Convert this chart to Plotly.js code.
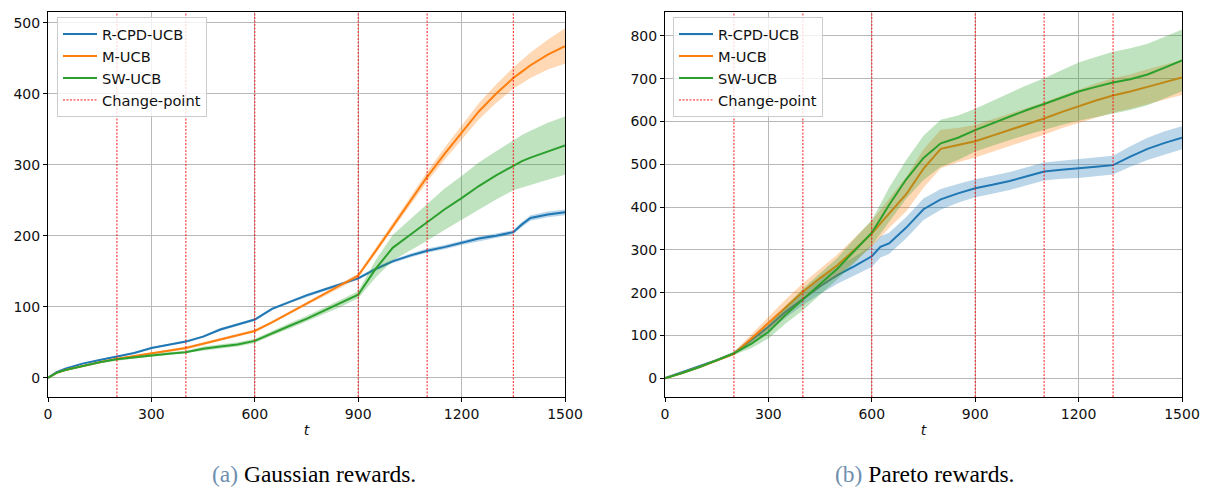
<!DOCTYPE html>
<html>
<head>
<meta charset="utf-8">
<script src="https://cdn.plot.ly/plotly-3.0.1.min.js"></script>
<style>html,body{margin:0;padding:0;background:#fff;}#chart{width:1212px;height:489px;}</style>
</head>
<body>
<div id="chart"></div>
<script>
// ---------- (a) Gaussian rewards ----------
const tA = [0,25,50,100,150,200,250,300,350,400,450,500,550,600,650,700,750,800,850,900,950,1000,1050,1100,1150,1200,1250,1300,1350,1375,1400,1450,1500];
const blueA = [0,8,13,20,25,30,35,42,47,51,58,68,75,82,97,107,116,124,132,140,153,164,172,179,184,190,196,200,205,216,225,230,233];
const blueBandA = [0,1,1,1,1,1,1,1.5,1.5,1.5,1.5,2,2,2,2,2,2,2,2,2,2.5,2.5,2.5,3,3,3,3,3,3,3.5,4,4,4];
const orangeA = [0,7,11,17,22,27,31,35,38,42,48,54,60,66,78,91,104,117,130,144,178,213,248,283,315,345,375,400,422,431,440,455,467];
const orangeBandA = [0,1,1,1,1,1,1,1.5,1.5,2,2,2,2,2,2,2,2,2.5,3,3,4,5,6,7,8.5,10,11.5,13,15,16.5,18,21,25];
const greenA = [0,7,11,17,22,26,29,32,34,36,41,44,47,52,63,73,83,94,105,117,153,183,201,219,237,253,270,285,299,305,310,319,327];
const greenBandA = [0,1,1,1,1,1.5,2,2,2,2,3,3,3,3,3.5,4,4,4.5,5,5,12,18,22,26,29,31,33,34,35,37,38,40,41];
const changeA = [200,400,600,900,1100,1350];
const yRangeA = [-27,515];

// ---------- (b) Pareto rewards ----------
const tB = [0,50,100,150,200,250,300,350,400,450,500,550,600,625,650,700,750,800,850,900,950,1000,1050,1100,1150,1200,1250,1300,1350,1400,1450,1500];
const blueB = [0,14,28,42,58,88,120,155,186,215,241,262,285,307,315,352,395,418,432,444,452,461,472,483,487,490,494,498,518,536,550,562];
const blueBandB = [0,2,3,3,4,8,12,14,15,18,20,22,25,25,25,25,25,24,22,21,21,21,21,21,21,22,22,22,24,26,27,27];
const orangeB = [0,12,26,42,57,92,128,166,202,234,264,300,338,362,385,430,490,536,545,554,567,580,594,607,622,636,649,661,670,681,692,703];
const orangeBandB = [0,2,3,3,4,10,15,18,20,22,25,28,30,32,34,40,45,45,40,38,38,38,38,38,38,39,40,40,40,41,41,41];
const greenB = [0,12,26,42,58,80,108,148,184,220,256,298,340,372,405,465,515,549,562,580,596,612,627,641,656,670,681,691,699,710,726,743];
const greenBandB = [0,2,3,3,4,10,15,20,25,25,25,28,30,35,40,45,52,55,52,50,52,55,58,60,64,68,70,72,72,72,72,72];
const changeB = [200,400,600,900,1100,1300];
const yRangeB = [-44,856];

const seriesNames = ['R-CPD-UCB','M-UCB','SW-UCB'];
const colors = ['#1f77b4','#ff7f0e','#2ca02c'];
const bandColors = ['rgba(31,119,180,0.3)','rgba(255,127,14,0.3)','rgba(44,160,44,0.3)'];
const cpName = 'Change-point';
const captionA = 'Gaussian rewards.';
const captionB = 'Pareto rewards.';

function band(t, m, h, color, xa, ya) {
  const xs = t.concat(t.slice().reverse());
  const up = m.map((v,i)=>v+h[i]);
  const lo = m.map((v,i)=>v-h[i]).reverse();
  return {x: xs, y: up.concat(lo), fill:'toself', fillcolor: color, line:{width:0},
          mode:'lines', hoverinfo:'skip', showlegend:false, xaxis:xa, yaxis:ya};
}
function line(t, m, i, xa, ya, lg) {
  return {x:t, y:m, mode:'lines', name:seriesNames[i], line:{color:colors[i], width:2},
          xaxis:xa, yaxis:ya, legend:lg};
}
function cpTrace(cps, yr, xa, ya, lg) {
  const xs=[], ys=[];
  cps.forEach(c=>{xs.push(c,c,null); ys.push(yr[0],yr[1],null);});
  return {x:xs, y:ys, mode:'lines', name:cpName, line:{color:'red', width:0.9, dash:'2px,1.5px'},
          xaxis:xa, yaxis:ya, legend:lg};
}

const traces = [];
const setsA = [[blueA,blueBandA],[orangeA,orangeBandA],[greenA,greenBandA]];
const setsB = [[blueB,blueBandB],[orangeB,orangeBandB],[greenB,greenBandB]];
setsA.forEach((s,i)=>{ traces.push(band(tA,s[0],s[1],bandColors[i],'x','y')); traces.push(line(tA,s[0],i,'x','y','legend')); });
traces.push(cpTrace(changeA,yRangeA,'x','y','legend'));
setsB.forEach((s,i)=>{ traces.push(band(tB,s[0],s[1],bandColors[i],'x2','y2')); traces.push(line(tB,s[0],i,'x2','y2','legend2')); });
traces.push(cpTrace(changeB,yRangeB,'x2','y2','legend2'));

const W=1212, H=489;
const font = {family:'DejaVu Sans', size:14, color:'#111'};
const legFont = {family:'DejaVu Sans', size:14.6, color:'#111'};
function xax(d0,d1,anchor){
  return {domain:[d0/W,d1/W], range:[0,1500], tickvals:[0,300,600,900,1200,1500], anchor:anchor,
    showgrid:true, gridcolor:'#b8b8b8', gridwidth:1, zeroline:false, showline:true, mirror:true,
    linecolor:'#000', linewidth:1, ticks:'outside', ticklen:4, tickcolor:'#000',
    tickfont:font, title:{text:'<i>t</i>', font:font, standoff:4}, automargin:false};
}
function yax(r, step, anchor){
  return {domain:[1-397/H, 1-12/H], range:r, dtick:step, tick0:0, anchor:anchor,
    showgrid:true, gridcolor:'#b8b8b8', gridwidth:1, zeroline:false, showline:true, mirror:true,
    linecolor:'#000', linewidth:1, ticks:'outside', ticklen:4, tickcolor:'#000',
    tickfont:font, automargin:false};
}
const legendStyle = (x)=>({x:x/W, y:1-17/H, xanchor:'left', yanchor:'top', bgcolor:'rgba(255,255,255,0.8)',
  bordercolor:'#cccccc', borderwidth:1, font:legFont, tracegroupgap:0, itemwidth:34});

const layout = {
  width:W, height:H, margin:{l:0,r:0,t:0,b:0}, paper_bgcolor:'#fff', plot_bgcolor:'#fff',
  font:font, showlegend:true,
  xaxis:xax(48,565,'y'), yaxis:yax(yRangeA,100,'x'),
  xaxis2:xax(665,1182,'y2'), yaxis2:yax(yRangeB,100,'x2'),
  legend:legendStyle(57), legend2:legendStyle(673),
  annotations:[
    {xref:'paper', yref:'paper', x:314/W, y:1-474/H, xanchor:'center', yanchor:'middle', showarrow:false,
     text:'<span style="color:#6f8fae">(a)</span> '+captionA, font:{family:'Liberation Serif', size:23.5, color:'#000'}},
    {xref:'paper', yref:'paper', x:924/W, y:1-474/H, xanchor:'center', yanchor:'middle', showarrow:false,
     text:'<span style="color:#6f8fae">(b)</span> '+captionB, font:{family:'Liberation Serif', size:23.5, color:'#000'}}
  ]
};
Plotly.newPlot('chart', traces, layout, {displayModeBar:false, staticPlot:true});
</script>
</body>
</html>
